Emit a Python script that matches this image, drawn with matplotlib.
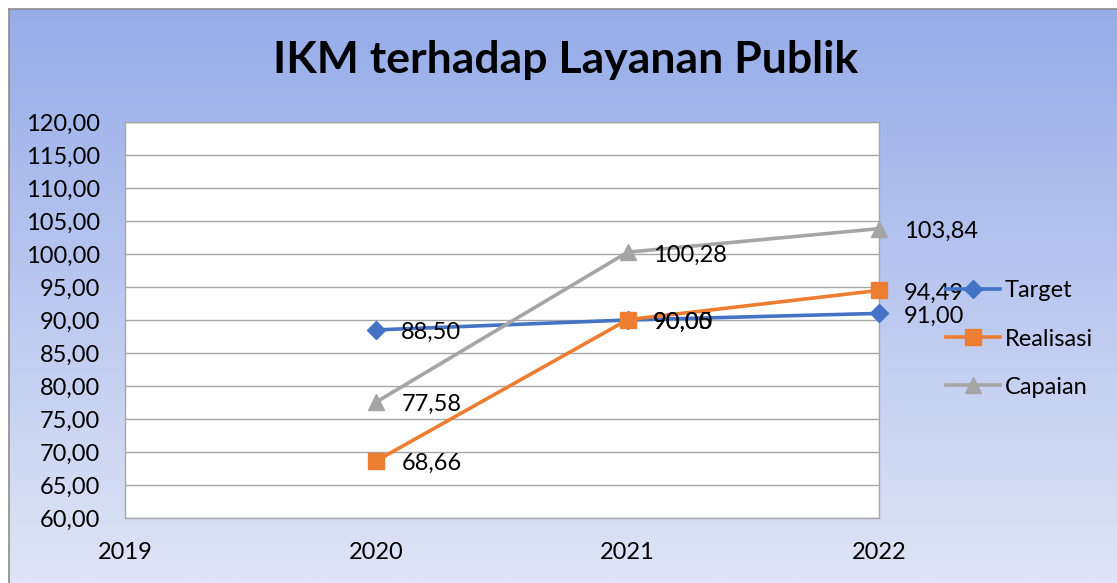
import numpy as np
import matplotlib
matplotlib.use('Agg')
import matplotlib.pyplot as plt
from matplotlib.ticker import FuncFormatter, MultipleLocator

plt.rcParams['font.family'] = ['Lato', 'DejaVu Sans']

# data
years = [2020, 2021, 2022]
target = [88.50, 90.00, 91.00]
realisasi = [68.66, 90.05, 94.49]
capaian = [77.58, 100.28, 103.84]

W, H = 1117, 583
fig = plt.figure(figsize=(W / 100, H / 100), dpi=100)

# gradient background of the chart area
bg = fig.add_axes([9 / W, 0, 1 - 9 / W, (H - 9) / H])
top = np.array([150, 172, 233]) / 255
bot = np.array([223, 229, 246]) / 255
t = np.linspace(0, 1, 256)[:, None]
grad = top + (bot - top) * t
bg.imshow(grad[:, None, :], aspect='auto', extent=[0, 1, 0, 1])
bg.set_xlim(0, 1)
bg.set_ylim(0, 1)
bg.set_xticks([])
bg.set_yticks([])
for s in ['right', 'bottom']:
    bg.spines[s].set_visible(False)
for s in ['left', 'top']:
    bg.spines[s].set_color('#8c8c8c')
    bg.spines[s].set_linewidth(1.2)
bg.set_zorder(0)

ax = fig.add_axes([125 / W, (H - 518) / H, (879 - 125) / W, (518 - 122) / H])
ax.set_zorder(1)
ax.set_facecolor('white')

series = [
    ('Target', target, '#4472C4', 'D', 9),
    ('Realisasi', realisasi, '#ED7D31', 's', 11),
    ('Capaian', capaian, '#A5A5A5', '^', 12),
]
for name, vals, col, mk, ms in series:
    ax.plot(years, vals, color=col, lw=2.6, marker=mk, markersize=ms,
            label=name, clip_on=False, zorder=3)
    for x, v in zip(years, vals):
        ax.annotate(f"{v:.2f}".replace('.', ','), (x, v), xytext=(18, -2),
                    textcoords='offset points', ha='left', va='center',
                    fontsize=17, color='black', annotation_clip=False, zorder=4)

ax.set_xlim(2019, 2022)
ax.set_ylim(60, 120)
ax.set_xticks([2019, 2020, 2021, 2022])
ax.yaxis.set_major_locator(MultipleLocator(5))
ax.yaxis.set_major_formatter(FuncFormatter(lambda v, p: f"{v:.2f}".replace('.', ',')))
ax.tick_params(axis='both', length=0, labelsize=17, colors='black')
ax.tick_params(axis='x', pad=17)
ax.tick_params(axis='y', pad=18)
ax.grid(axis='y', color='#a6a6a6', lw=1)
ax.set_axisbelow(True)
for s in ax.spines.values():
    s.set_color('#a6a6a6')
    s.set_linewidth(1)

fig.text(566 / W, 1 - 60 / H, 'IKM terhadap Layanan Publik', ha='center',
         va='center', fontsize=32, fontweight='bold')

fig.legend(loc='center left', bbox_to_anchor=(946 / W, 1 - 339 / H),
           frameon=False, fontsize=17, handlelength=2.3, handletextpad=0.2,
           labelspacing=1.15, borderpad=0, borderaxespad=0)

fig.savefig('out.png', dpi=100)
